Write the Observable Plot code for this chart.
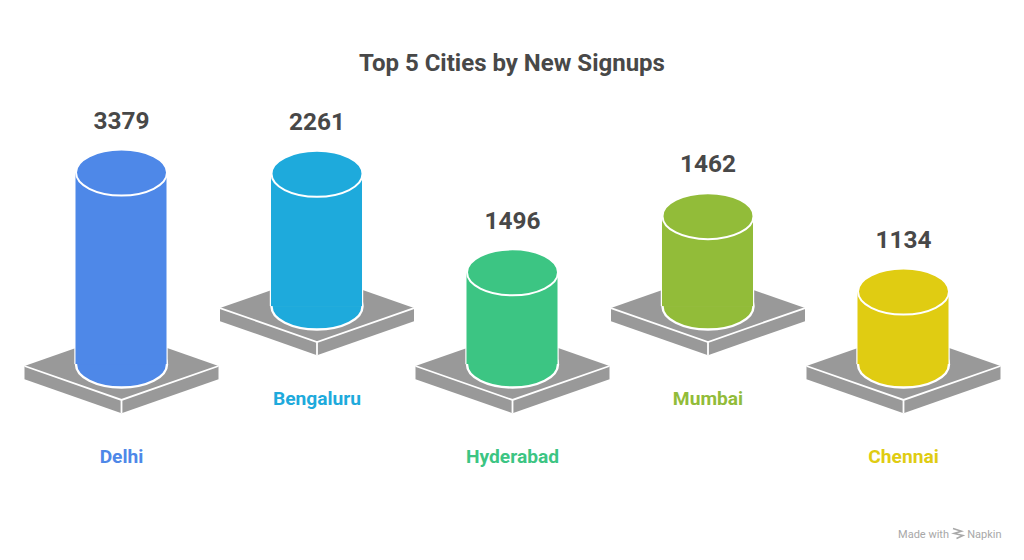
<!DOCTYPE html>
<html>
<head>
<meta charset="utf-8">
<script src="https://cdn.jsdelivr.net/npm/d3@7"></script>
<script src="https://cdn.jsdelivr.net/npm/@observablehq/plot@0.6"></script>
<style>
html,body{margin:0;padding:0;background:#fff;overflow:hidden}
#title{height:90px;box-sizing:border-box;padding-top:48px;font:700 24px/30px Roboto,sans-serif;color:#484848;text-align:center;width:1024px}
#chart svg{display:block}
</style>
</head>
<body>
<div id="title">Top 5 Cities by New Signups</div>
<div id="chart"></div>
<script>
const cities = ["Delhi", "Bengaluru", "Hyderabad", "Mumbai", "Chennai"];
const values = [3379, 2261, 1496, 1462, 1134];
const colors = ["#4e88e8", "#1eaadc", "#3cc583", "#92bc39", "#e0cc12"];
const rows = [0, 1, 0, 1, 0];

// A cylinder is taller than its value by a fixed stem; the rear row sits on a raised base.
const stem = 243, rowRise = 1094;
const table = cities.map((city, i) => ({
  city,
  value: values[i],
  base: rows[i] * rowRise,
  top: rows[i] * rowRise + stem + values[i]
}));

const radius = s => Math.sqrt(s / Math.PI);
const kappa = 0.5523;
const ellipse = {
  draw(c, s) {
    const rx = radius(s), ry = rx * 0.505;
    c.moveTo(-rx, 0);
    c.bezierCurveTo(-rx, -ry * kappa, -rx * kappa, -ry, 0, -ry);
    c.bezierCurveTo(rx * kappa, -ry, rx, -ry * kappa, rx, 0);
    c.bezierCurveTo(rx, ry * kappa, rx * kappa, ry, 0, ry);
    c.bezierCurveTo(-rx * kappa, ry, -rx, ry * kappa, -rx, 0);
    c.closePath();
  }
};
const depth = 0.35, lip = 0.136;
const slab = {
  draw(c, s) {
    const w = radius(s), h = w * depth, t = w * lip;
    c.moveTo(-w, 0); c.lineTo(0, -h); c.lineTo(w, 0);
    c.lineTo(w, t); c.lineTo(0, h + t); c.lineTo(-w, t);
    c.closePath();
  }
};
const slabEdges = {
  draw(c, s) {
    const w = radius(s), h = w * depth, t = w * lip;
    c.moveTo(-w, 0); c.lineTo(0, h); c.lineTo(w, 0);
    c.moveTo(0, h); c.lineTo(0, h + t);
  }
};
const napkinLogo = {
  draw(c, s) {
    const r = radius(s);
    c.moveTo(-r, -r); c.lineTo(r * 0.7, -r * 0.45); c.lineTo(-r * 0.8, 0);
    c.lineTo(r, r * 0.4); c.lineTo(-r * 0.3, r);
  }
};

const chart = Plot.plot({
  width: 1024,
  height: 470,
  marginTop: 0, marginBottom: 0, marginLeft: 75.5, marginRight: 75.5,
  x: {type: "band", domain: cities, paddingInner: 0.5345, paddingOuter: 0, round: false, axis: null},
  y: {domain: [-3698, 5170], axis: null},
  color: {domain: cities, range: colors},
  marks: [
    Plot.dot(table, {x: "city", y: "base", r: 97, dy: 1.5, symbol: slab, fill: "#999999", stroke: "none"}),
    Plot.dot(table, {x: "city", y: "base", r: 97, dy: 1.5, symbol: slabEdges, fill: "none", stroke: "white", strokeWidth: 1.8}),
    Plot.dot(table, {x: "city", y: "base", r: 45.5, symbol: ellipse, fill: "city", stroke: "white", strokeWidth: 2.4}),
    Plot.barY(table, {x: "city", y1: "base", y2: "top", fill: "white", insetLeft: -1.2, insetRight: -1.2}),
    Plot.barY(table, {x: "city", y1: "base", y2: "top", fill: "city"}),
    Plot.dot(table, {x: "city", y: "top", r: 45.5, symbol: ellipse, fill: "city", stroke: "white", strokeWidth: 2}),
    Plot.text(table, {x: "city", y: "top", text: d => String(d.value), dy: -51.5, fill: "#484848", fontSize: 24.4, fontWeight: 700, fontFamily: "Roboto"}),
    Plot.text(table, {x: "city", y: "base", text: "city", dy: 92, fill: "city", fontSize: 19.2, fontWeight: 700, fontFamily: "Roboto"}),
    Plot.text(["Made with"], {frameAnchor: "bottom-right", dx: 0, dy: -23, textAnchor: "end", text: d => d, fill: "#a8a8a8", fontSize: 11, fontFamily: "Roboto"}),
    Plot.dot(["logo"], {frameAnchor: "bottom-right", dx: 9, dy: -27, r: 5, symbol: napkinLogo, fill: "none", stroke: "#a8a8a8", strokeWidth: 1.5}),
    Plot.text(["Napkin"], {frameAnchor: "bottom-right", dx: 52.5, dy: -23, textAnchor: "end", text: d => d, fill: "#a8a8a8", fontSize: 11, fontFamily: "Roboto"})
  ]
});
document.getElementById("chart").appendChild(chart);
</script>
</body>
</html>
